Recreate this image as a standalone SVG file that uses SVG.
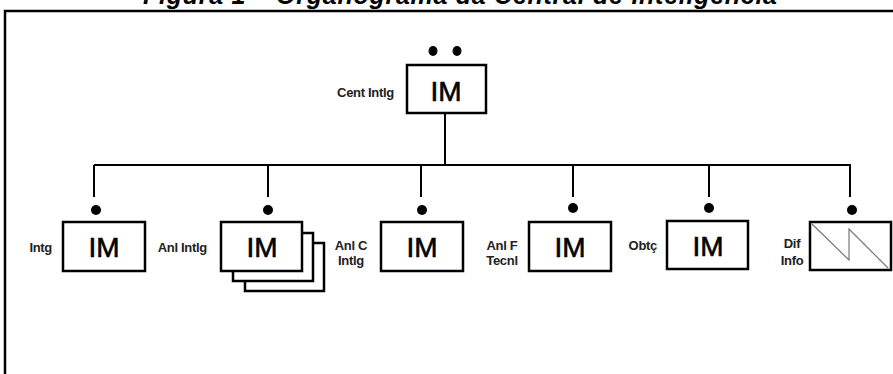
<svg xmlns="http://www.w3.org/2000/svg" width="893" height="374" viewBox="0 0 893 374">
<style>
.box{fill:#fff;stroke:#000;stroke-width:2.5}
.im{font-family:"Liberation Sans",Arial,sans-serif;font-size:28px;fill:#000;stroke:#000;stroke-width:0.6;text-anchor:middle}
.lbl{font-family:"Liberation Sans",Arial,sans-serif;font-size:13px;font-weight:bold;fill:#222;letter-spacing:-0.3px}
.r{text-anchor:end}
.m{text-anchor:middle}
.ln{stroke:#000;stroke-width:2;fill:none}
.dot{fill:#000}
</style>
<rect width="893" height="374" fill="#fff"/>
<text x="460" y="4" textLength="634" lengthAdjust="spacing" style="font-family:'Liberation Sans',Arial,sans-serif;font-size:25px;font-weight:bold;font-style:italic;text-anchor:middle" fill="#000">Figura 1 – Organograma da Central de Inteligência</text>
<path d="M5,374 V11 H893" stroke="#000" stroke-width="2.5" fill="none"/>
<g id="connectors">
<path class="ln" d="M445,113 V165 M94,165 H851 M94,165 V197 M268,165 V197 M421,165 V197 M573,165 V197 M709,165 V197 M850,165 V197"/>
</g>
<g id="cent-intlg">
<ellipse class="dot" cx="433" cy="51" rx="4.5" ry="5"/>
<ellipse class="dot" cx="457" cy="51" rx="4.5" ry="5"/>
<rect class="box" x="407" y="65" width="79" height="48"/>
<text class="im" x="446" y="101">IM</text>
<text class="lbl r" x="394" y="97">Cent Intlg</text>
</g>
<g id="intg">
<circle class="dot" cx="96" cy="210" r="5"/>
<rect class="box" x="63" y="222" width="82" height="49"/>
<text class="im" x="104" y="257">IM</text>
<text class="lbl r" x="52" y="252">Intg</text>
</g>
<g id="anl-intlg">
<rect class="box" x="245" y="243" width="79" height="48"/>
<rect class="box" x="233" y="233" width="80" height="48"/>
<rect class="box" x="221" y="222" width="81" height="49"/>
<circle class="dot" cx="268" cy="210" r="5"/>
<text class="im" x="262" y="257">IM</text>
<text class="lbl r" x="207" y="252">Anl Intlg</text>
</g>
<g id="anl-c-intlg">
<circle class="dot" cx="422" cy="210" r="5"/>
<rect class="box" x="381" y="222" width="82" height="49"/>
<text class="im" x="422" y="257">IM</text>
<text class="lbl m" x="351" y="250">Anl C</text>
<text class="lbl m" x="351" y="265">Intlg</text>
</g>
<g id="anl-f-tecnl">
<circle class="dot" cx="573" cy="208" r="5"/>
<rect class="box" x="529" y="222" width="82" height="49"/>
<text class="im" x="570" y="257">IM</text>
<text class="lbl m" x="502" y="250">Anl F</text>
<text class="lbl m" x="502" y="265">Tecnl</text>
</g>
<g id="obtc">
<circle class="dot" cx="709" cy="208" r="5"/>
<rect class="box" x="667" y="221" width="81" height="48"/>
<text class="im" x="708" y="256">IM</text>
<text class="lbl r" x="657" y="250">Obtç</text>
</g>
<g id="dif-info">
<circle class="dot" cx="852" cy="210" r="5"/>
<rect class="box" x="810" y="222" width="81" height="48"/>
<path d="M812,224 L849,260 V229 L888,268" stroke="#777" stroke-width="1.2" fill="none"/>
<text class="lbl m" x="792" y="248">Dif</text>
<text class="lbl m" x="792" y="265">Info</text>
</g>
</svg>
